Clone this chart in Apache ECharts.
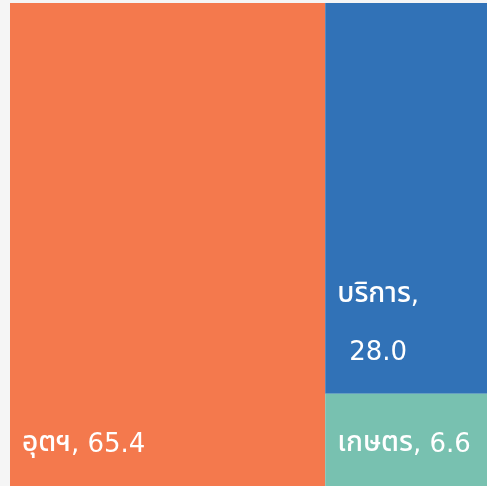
<!DOCTYPE html>
<html>
<head>
<meta charset="utf-8">
<script src="https://cdn.jsdelivr.net/npm/echarts@6/dist/echarts.min.js"></script>
<style>
html, body { margin: 0; padding: 0; background: #f5f5f5; overflow: hidden; }
#chart { width: 492px; height: 486px; }
</style>
</head>
<body>
<div id="chart"></div>
<script>
// สัดส่วนตามภาคเศรษฐกิจ (%)
var sectors = ['อุตฯ', 'บริการ', 'เกษตร'];
var shares = [65.4, 28.0, 6.6];
var sectorColors = ['#f4794d', '#3172b7', '#78c1b0'];

var thaiFont = "500 28px 'Noto Sans Thai', 'Noto Sans Thai UI', sans-serif";
var numFont = "26px 'DejaVu Sans', sans-serif";
var measureCtx = document.createElement('canvas').getContext('2d');
function textWidth(str, font) {
    measureCtx.font = font;
    return measureCtx.measureText(str).width;
}

// treemap layout: the biggest sector takes a full-height column,
// the other two split the rest top / bottom
var total = shares[0] + shares[1] + shares[2];
var restShare = shares[1] + shares[2];
var xSplit = shares[0] / total * 100;
var ySplit = shares[2] / restShare * 100;
var cells = [
    [0, xSplit, 0, 100, 0],
    [xSplit, 100, ySplit, 100, 1],
    [xSplit, 100, 0, ySplit, 2]
];

var myChart = echarts.init(document.getElementById('chart'));

function renderCell(params, api) {
    var i = api.value(4);
    var p0 = api.coord([api.value(0), api.value(3)]);
    var p1 = api.coord([api.value(1), api.value(2)]);
    var w = p1[0] - p0[0];
    var h = p1[1] - p0[1];
    var valText = shares[i].toFixed(1);
    var fullWidth = textWidth(sectors[i], thaiFont) + textWidth(', ' + valText, numFont);
    var text;
    if (fullWidth > w - 24) {
        text = '{t|' + sectors[i] + '}{n|,}\n{n|' + valText + '}';
    } else {
        text = '{t|' + sectors[i] + '}{n|, ' + valText + '}';
    }
    return {
        type: 'rect',
        shape: { x: p0[0], y: p0[1], width: w, height: h },
        style: { fill: sectorColors[i] },
        textContent: {
            style: {
                text: text,
                fill: '#fff',
                font: numFont,
                lineHeight: 57,
                rich: {
                    t: { font: thaiFont, fill: '#fff', lineHeight: 57, align: 'center' },
                    n: { font: numFont, fill: '#fff', lineHeight: 57, align: 'center' }
                }
            }
        },
        textConfig: { position: 'insideBottomLeft', distance: 12 }
    };
}

var option = {
    backgroundColor: '#f5f5f5',
    animation: false,
    grid: { left: 10, top: 3, right: 0, bottom: 0 },
    xAxis: { type: 'value', min: 0, max: 100, show: false },
    yAxis: { type: 'value', min: 0, max: 100, show: false },
    series: [{
        type: 'custom',
        renderItem: renderCell,
        encode: { x: [0, 1], y: [2, 3] },
        data: cells
    }]
};
myChart.setOption(option);
</script>
</body>
</html>
